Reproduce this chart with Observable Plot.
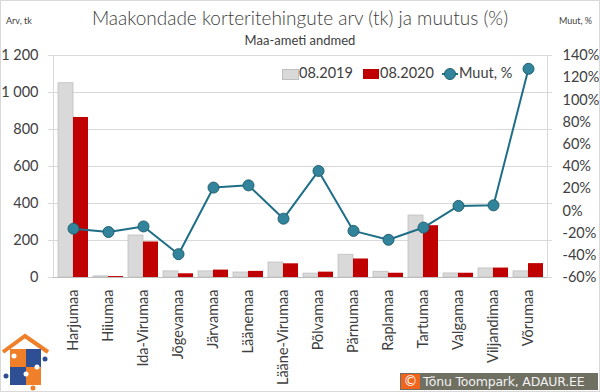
<!DOCTYPE html>
<html><head><meta charset="utf-8">
<script src="https://cdn.jsdelivr.net/npm/d3@7"></script>
<script src="https://cdn.jsdelivr.net/npm/@observablehq/plot@0.6"></script>
<style>
body{margin:0;background:#fff;}
#wrap{position:relative;width:600px;height:392px;overflow:hidden;font-family:Lato,"DejaVu Sans",sans-serif;color:#404040;background:#fff}
#wrap svg{position:absolute;left:0;top:0}
.abs{position:absolute;white-space:nowrap}
#frame{position:absolute;left:0;top:0;width:598px;height:390px;border:1px solid #d9d9d9;pointer-events:none}
</style></head>
<body>
<div id="wrap">
  <div id="charts"></div>
  <div class="abs" id="title" style="left:0;width:600px;text-align:center;top:6px;font-size:19px;font-weight:300;color:#404040">Maakondade korteritehingute arv (tk) ja muutus (%)</div>
  <div class="abs" id="subtitle" style="left:0;width:600px;text-align:center;top:32px;font-size:13px;color:#404040">Maa-ameti andmed</div>
  <div class="abs" style="left:6px;top:15px;font-size:9px;color:#404040">Arv, tk</div>
  <div class="abs" style="right:8px;top:15px;font-size:9px;color:#404040">Muut, %</div>
  <div id="legend"></div>
  <svg width="52" height="60" style="left:0;top:332px" viewBox="0 332 52 60">
    <polyline points="3,352 25,336 48,352" fill="none" stroke="#f07f2a" stroke-width="4"/>
    <rect x="10" y="349" width="16" height="18" fill="#f07f2a"/>
    <rect x="26" y="349" width="15" height="18" fill="#2f4f94"/>
    <rect x="10" y="367" width="16" height="18" fill="#2f4f94"/>
    <rect x="26" y="367" width="15" height="18" fill="#f07f2a"/>
    <circle cx="6" cy="376" r="2.5" fill="#2f4f94"/>
    <circle cx="45" cy="359" r="2.5" fill="#2f4f94"/>
    <circle cx="33" cy="388" r="2.5" fill="#f07f2a"/>
    <circle cx="14" cy="356" r="2.5" fill="#fff"/>
    <circle cx="26" cy="374" r="2.5" fill="#fff"/>
    <circle cx="37" cy="367" r="2.5" fill="#fff"/>
  </svg>
  <div class="abs" style="left:400px;top:373px;width:198px;height:17px;background:#6f6f62;"></div>
  <div class="abs" style="left:401px;top:374px;width:19px;height:15px;background:#f0641e;color:#fff;font-size:14px;line-height:15px;text-align:center;font-family:'DejaVu Sans',sans-serif">©</div>
  <div class="abs" style="left:423px;top:373px;height:17px;line-height:17px;font-size:12.5px;color:#f2f2f2;font-family:'DejaVu Sans',sans-serif;letter-spacing:-0.2px">Tõnu Toompark, ADAUR.EE</div>
  <div id="frame"></div>
</div>
<script>
const counties = ["Harjumaa","Hiiumaa","Ida-Virumaa","Jõgevamaa","Järvamaa","Läänemaa","Lääne-Virumaa","Põlvamaa","Pärnumaa","Raplamaa","Tartumaa","Valgamaa","Viljandimaa","Võrumaa"];
const periods = ["08.2019","08.2020"];
const count2019 = [1050, 6, 227, 33, 33, 27, 81, 21, 123, 31, 335, 22, 49, 33];
const count2020 = [865, 5, 192, 20, 40, 33, 74, 29, 100, 23, 280, 23, 51, 75];
const changePct = [-16, -19, -14, -39, 21, 23, -7, 36, -18, -26, -15, 4.5, 5, 128];
const countTicks = [0, 200, 400, 600, 800, 1000, 1200];
const pctTicks = [-60, -40, -20, 0, 20, 40, 60, 80, 100, 120, 140];
const legendLabels = ["08.2019", "08.2020", "Muut, %"];

const colors = {c2019: "#d9d9d9", c2019stroke: "#bfbfbf", c2020: "#c00000", line: "#1f6e87", dot: "#31849b", dotStroke: "#22606f", grid: "#d9d9d9", text: "#404040"};

const bars = counties.flatMap((c, i) => [
  {county: c, period: periods[0], value: count2019[i]},
  {county: c, period: periods[1], value: count2020[i]}
]);
const changes = counties.map((c, i) => ({county: c, change: changePct[i]}));

const W = 600, H = 392;
const M = {marginTop: 55, marginBottom: 115, marginLeft: 53, marginRight: 53};
const fmt = d3.formatLocale({thousands: " ", grouping: [3], decimal: ","}).format(",");
const baseStyle = {fontFamily: "Lato, 'DejaVu Sans', sans-serif", fontSize: "14.5px", color: colors.text, background: "transparent"};

// Layer A: grid, frame, left axis
const gridPlot = Plot.plot({
  width: W, height: H, ...M,
  style: baseStyle,
  y: {domain: [0, 1200], ticks: countTicks, tickFormat: fmt, tickSize: 0, tickPadding: 15, label: null},
  marks: [
    Plot.ruleY(countTicks, {stroke: colors.grid, insetLeft: -5, insetRight: -5}),
    Plot.frame({stroke: colors.grid}),
    Plot.ruleY([0], {stroke: "#bfbfbf"})
  ]
});

// Layer B: grouped bars
const barPlot = Plot.plot({
  width: W, height: H, ...M,
  style: baseStyle,
  facet: {data: bars, x: "county"},
  fx: {domain: counties, paddingInner: 0.12, paddingOuter: 0.06, axis: "bottom", tickRotate: -90, tickSize: 0, tickPadding: 12, label: null},
  x: {domain: periods, padding: 0, axis: null},
  y: {domain: [0, 1200], axis: null},
  marks: [
    Plot.barY(bars, {filter: d => d.period === periods[0], x: "period", y: "value", fill: colors.c2019, stroke: colors.c2019stroke, strokeWidth: 0.8}),
    Plot.barY(bars, {filter: d => d.period === periods[1], x: "period", y: "value", fill: colors.c2020})
  ]
});

// Layer C: change line, right axis
const linePlot = Plot.plot({
  width: W, height: H, ...M,
  style: baseStyle,
  x: {type: "point", domain: counties, padding: 0.5, axis: null},
  y: {domain: [-60, 140], ticks: pctTicks, tickFormat: d => d + "%", axis: "right", tickSize: 0, tickPadding: 15, label: null},
  marks: [
    Plot.line(changes, {x: "county", y: "change", stroke: colors.line, strokeWidth: 2}),
    Plot.dot(changes, {x: "county", y: "change", r: 5.5, fill: colors.dot, stroke: colors.dotStroke, strokeWidth: 1})
  ]
});

const legend = document.getElementById("legend");
legend.innerHTML = `
<div class="abs" style="left:282px;top:69px;width:15px;height:9px;background:${colors.c2019};border:1px solid ${colors.c2019stroke}"></div>
<div class="abs" style="left:299px;top:64px;font-size:14.5px">${legendLabels[0]}</div>
<div class="abs" style="left:363px;top:69px;width:16px;height:10px;background:${colors.c2020}"></div>
<div class="abs" style="left:380px;top:64px;font-size:14.5px">${legendLabels[1]}</div>
<svg width="20" height="16" style="left:441px;top:66px"><line x1="1" y1="8" x2="17" y2="8" stroke="${colors.line}" stroke-width="2"/><circle cx="9" cy="8" r="5.5" fill="${colors.dot}" stroke="${colors.dotStroke}"/></svg>
<div class="abs" style="left:459px;top:64px;font-size:14.5px">${legendLabels[2]}</div>`;

document.getElementById("charts").append(gridPlot, barPlot, linePlot);
</script>
</body></html>
